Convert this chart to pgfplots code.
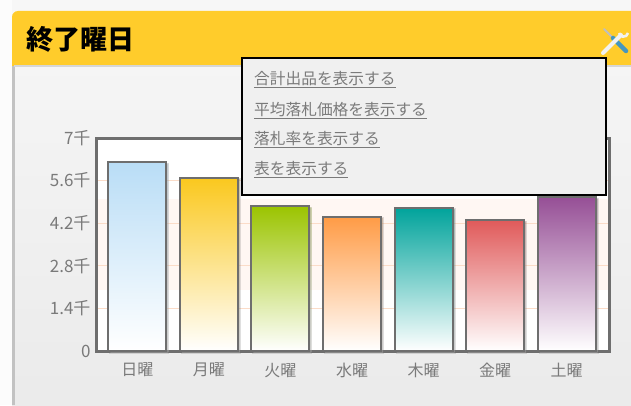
\documentclass[border=0pt]{standalone}
\usepackage{pgfplots}
\pgfplotsset{compat=1.18}
\usepackage{fontspec}
\setmainfont{Noto Sans CJK JP}
\usetikzlibrary{shadows}
\definecolor{hdr}{HTML}{FFCC2B}
\definecolor{lab}{HTML}{7A7A7A}
\definecolor{frame}{HTML}{6E6E6E}
\definecolor{grid}{HTML}{FBDCC8}
\definecolor{band}{HTML}{FFF7F3}
\definecolor{c0}{HTML}{B9DDF6}
\definecolor{c1}{HTML}{FAC81E}
\definecolor{c2}{HTML}{9BC400}
\definecolor{c3}{HTML}{FF9B45}
\definecolor{c4}{HTML}{00A39B}
\definecolor{c5}{HTML}{E05A5A}
\definecolor{c6}{HTML}{964F96}
\definecolor{blu}{HTML}{4696BE}
\tikzset{px/.style={x=1pt,y=1pt}}
\pgfplotsset{barsty/.style={draw=frame,line width=2pt,drop shadow={opacity=0.22,shadow xshift=2pt,shadow yshift=-1.5pt},bottom color=white}}
\begin{document}
\begin{tikzpicture}[px]
% page
\fill[white!97!black] (0,0) rectangle (631,405);
\fill[white!99!black] (0,0) rectangle (12,405);
% panel
\shade[top color=white!96!black,bottom color=white!92!black] (12,0) rectangle (631,339);
\fill[white!76!black] (12,0) rectangle (14.5,339);
\fill[hdr] (12,339) -- (12,388) arc[start angle=180,end angle=90,radius=6] -- (631,394) -- (631,339) -- cycle;
\fill[white!84!black] (14,338) rectangle (631,339.5);
\node[anchor=west,font=\fontsize{27}{29}\selectfont\bfseries,text=black,inner sep=0pt] at (26,366) {終了曜日};
% plot background
\fill[white] (96,54) rectangle (609,267);
\fill[band] (96,115) rectangle (609,206);
% axis
\begin{axis}[
  at={(96pt,54pt)},anchor=south west,scale only axis,width=513pt,height=213pt,
  xmin=-0.58,xmax=6.594,ymin=0,ymax=7000,
  axis line style={draw=frame,line width=3pt},
  ybar,bar width=58pt,
  xtick={0,1,2,3,4,5,6},
  xticklabels={日曜,月曜,火曜,水曜,木曜,金曜,土曜},
  ytick={0,1400,2800,4200,5600,7000},
  yticklabels={0,1.4千,2.8千,4.2千,5.6千,7千},
  ymajorgrids,grid style={draw=grid,line width=1.1pt},
  tick style={draw=none},
  tick label style={text=lab},
  xticklabel style={font=\fontsize{16}{18}\selectfont,yshift=-4pt},
  yticklabel style={font=\fontsize{17}{19}\selectfont,xshift=-2pt},
  clip=false,
]
\addplot[bar shift=0pt,barsty,top color=c0] coordinates {(0,6210)};
\addplot[bar shift=0pt,barsty,top color=c1] coordinates {(1,5690)};
\addplot[bar shift=0pt,barsty,top color=c2] coordinates {(2,4765)};
\addplot[bar shift=0pt,barsty,top color=c3] coordinates {(3,4420)};
\addplot[bar shift=0pt,barsty,top color=c4] coordinates {(4,4716)};
\addplot[bar shift=0pt,barsty,top color=c5] coordinates {(5,4305)};
\addplot[bar shift=0pt,barsty,top color=c6] coordinates {(6,5060)};
\end{axis}
% menu
\draw[black,line width=1.5pt,fill=white!94!black] (242,210) rectangle (606,347);
\foreach \y/\t in {320/合計出品を表示する,290/平均落札価格を表示する,260.5/落札率を表示する,230.5/表を表示する}{
  \node[anchor=base west,inner sep=0pt,text=lab,font=\fontsize{15.7}{17}\selectfont] at (254,\y) {\underline{\t}};
}
% tool icon
\draw[line width=2pt,white!75!black,line cap=round] (604,376) -- (612,368);
\draw[line width=4.5pt,blu,line cap=round] (613,367) -- (626,354);
\draw[line width=4pt,white!95!black,line cap=round] (603,352) -- (621,370);
\draw[line width=2.6pt,white!95!black] (628,372) arc[start angle=-10,end angle=-170,radius=4.5];
\useasboundingbox (0,0) rectangle (631,405);
\end{tikzpicture}
\end{document}
